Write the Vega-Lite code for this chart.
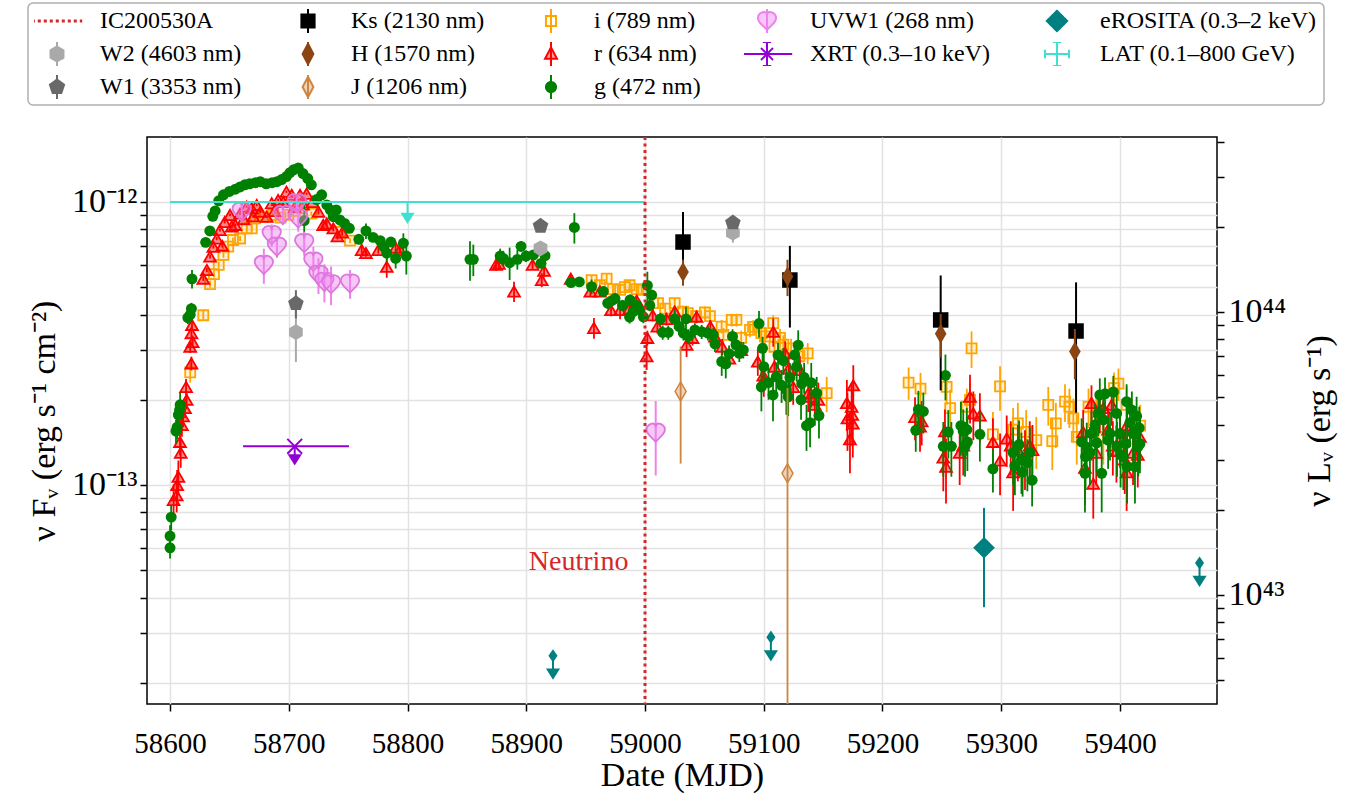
{
"$schema": "https://vega.github.io/schema/vega-lite/v6.json",
"width": 1070, "height": 567,
"autosize": {"type": "none"},
"padding": {"left": 147, "top": 137, "right": 142, "bottom": 92},
"config": {
 "font": "Liberation Serif",
 "view": {"stroke": "black", "strokeWidth": 1.5},
 "axis": {"labelFont": "Liberation Serif", "titleFont": "Liberation Serif", "labelFontSize": 29, "titleFontSize": 34, "titleFontWeight": "normal", "labelColor": "black", "titleColor": "black", "tickColor": "black", "domain": false, "tickWidth": 1.5, "gridColor": "#e2e2e2", "gridWidth": 1.5, "labelOverlap": false}
},
"datasets": {
 "d": [
{"b":"g","t":58600,"f":6.0e-14,"e":5e-15},{"b":"g","t":58600,"f":6.6e-14,"e":6e-15},{"b":"g","t":58601,"f":7.7e-14,"e":8e-15},{"b":"g","t":58605,"f":1.55e-13,"e":1.5e-14},{"b":"g","t":58606,"f":1.6e-13,"e":1.5e-14},{"b":"g","t":58607,"f":1.77e-13,"e":1.5e-14},{"b":"g","t":58608,"f":1.84e-13,"e":1.5e-14},{"b":"g","t":58608.5,"f":1.92e-13,"e":2e-14},{"b":"g","t":58615,"f":3.9e-13,"e":2e-14},{"b":"g","t":58617,"f":4.0e-13,"e":2e-14},{"b":"g","t":58618,"f":4.2e-13,"e":2e-14},{"b":"g","t":58618.5,"f":5.35e-13,"e":4e-14},
{"b":"g","t":58630,"f":7.2e-13,"e":1e-14},{"b":"g","t":58633.5,"f":7.9e-13,"e":1e-14},{"b":"g","t":58636,"f":8.9e-13,"e":1e-14},{"b":"g","t":58638,"f":9.3e-13,"e":1e-14},{"b":"g","t":58641,"f":1.01e-12,"e":1e-14},{"b":"g","t":58645,"f":1.06e-12,"e":1e-14},{"b":"g","t":58650,"f":1.09e-12,"e":1e-14},{"b":"g","t":58655,"f":1.11e-12,"e":1e-14},{"b":"g","t":58659,"f":1.13e-12,"e":1e-14},{"b":"g","t":58663,"f":1.15e-12,"e":1e-14},{"b":"g","t":58667,"f":1.16e-12,"e":1e-14},{"b":"g","t":58672,"f":1.17e-12,"e":1e-14},{"b":"g","t":58676,"f":1.18e-12,"e":1e-14},{"b":"g","t":58681,"f":1.16e-12,"e":1e-14},{"b":"g","t":58686,"f":1.17e-12,"e":1e-14},{"b":"g","t":58690,"f":1.18e-12,"e":1e-14},{"b":"g","t":58694,"f":1.2e-12,"e":1e-14},{"b":"g","t":58698,"f":1.23e-12,"e":1e-14},{"b":"g","t":58701,"f":1.27e-12,"e":1e-14},{"b":"g","t":58704,"f":1.3e-12,"e":1e-14},{"b":"g","t":58708,"f":1.32e-12,"e":1e-14},{"b":"g","t":58712,"f":1.26e-12,"e":1e-14},{"b":"g","t":58716,"f":1.21e-12,"e":1e-14},{"b":"g","t":58719,"f":1.15e-12,"e":1e-14},{"b":"g","t":58713,"f":8.6e-13,"e":1.2e-13},{"b":"g","t":58723.5,"f":1.02e-12,"e":1e-14},{"b":"g","t":58727.7,"f":1.06e-12,"e":1e-14},{"b":"g","t":58732,"f":9.76e-13,"e":1e-14},{"b":"g","t":58735,"f":9.37e-13,"e":1e-14},{"b":"g","t":58737.5,"f":8.87e-13,"e":1e-14},{"b":"g","t":58740,"f":9.37e-13,"e":1e-14},{"b":"g","t":58743,"f":8.64e-13,"e":1e-14},{"b":"g","t":58747,"f":8.4e-13,"e":1e-14},{"b":"g","t":58751,"f":8.07e-13,"e":1e-14},{"b":"g","t":58759,"f":7.38e-13,"e":2e-14},{"b":"g","t":58765,"f":7.9e-13,"e":5e-14},{"b":"g","t":58771,"f":7.5e-13,"e":2e-14},{"b":"g","t":58777,"f":7.3e-13,"e":2e-14},{"b":"g","t":58780,"f":6.95e-13,"e":2e-14},{"b":"g","t":58782.5,"f":6.6e-13,"e":4e-14},{"b":"g","t":58786,"f":7.22e-13,"e":2e-14},{"b":"g","t":58790,"f":6.32e-13,"e":5e-14},{"b":"g","t":58796.5,"f":7.15e-13,"e":6e-14},{"b":"g","t":58799,"f":6.44e-13,"e":9e-14},
{"b":"g","t":58852.6,"f":6.27e-13,"e":1e-13},{"b":"g","t":58855.4,"f":6.27e-13,"e":8e-14},{"b":"g","t":58878,"f":6.44e-13,"e":4e-14},{"b":"g","t":58880.7,"f":6.32e-13,"e":4e-14},{"b":"g","t":58886,"f":6.1e-13,"e":8e-14},{"b":"g","t":58892.5,"f":6.27e-13,"e":5e-14},{"b":"g","t":58895.6,"f":6.97e-13,"e":3e-14},{"b":"g","t":58899.8,"f":6.44e-13,"e":3e-14},{"b":"g","t":58906,"f":6.5e-13,"e":2e-14},{"b":"g","t":58912.4,"f":6.07e-13,"e":2e-14},{"b":"g","t":58915.8,"f":6.46e-13,"e":2e-14},{"b":"g","t":58940.5,"f":8.13e-13,"e":1e-13},{"b":"g","t":58937.7,"f":5.19e-13,"e":2e-14},{"b":"g","t":58944.7,"f":5.22e-13,"e":2e-14},{"b":"g","t":58955,"f":5.02e-13,"e":3e-14},{"b":"g","t":58964.9,"f":4.83e-13,"e":2e-14},{"b":"g","t":58968.6,"f":4.39e-13,"e":2e-14},{"b":"g","t":58972,"f":4.48e-13,"e":2e-14},{"b":"g","t":58974.7,"f":4.56e-13,"e":2e-14},{"b":"g","t":58981,"f":4.31e-13,"e":2e-14},{"b":"g","t":58987.4,"f":4.51e-13,"e":2e-14},{"b":"g","t":58987,"f":3.92e-13,"e":2e-14},{"b":"g","t":58990,"f":4.1e-13,"e":2e-14},{"b":"g","t":58993,"f":4.31e-13,"e":2e-14},{"b":"g","t":58995.8,"f":4.15e-13,"e":2e-14},{"b":"g","t":58998.6,"f":3.93e-13,"e":2e-14},{"b":"g","t":59002,"f":5.07e-13,"e":6e-14},{"b":"g","t":59005.6,"f":4.69e-13,"e":2e-14},{"b":"g","t":59004,"f":4.31e-13,"e":2e-14},{"b":"g","t":59013,"f":3.86e-13,"e":2e-14},{"b":"g","t":59014.9,"f":3.46e-13,"e":2e-14},{"b":"g","t":59019.6,"f":3.46e-13,"e":2e-14},{"b":"g","t":59025,"f":3.86e-13,"e":3e-14},{"b":"g","t":59028.9,"f":3.63e-13,"e":2e-14},{"b":"g","t":59032.3,"f":3.44e-13,"e":2e-14},{"b":"g","t":59034.5,"f":3.86e-13,"e":4e-14},{"b":"g","t":59036.5,"f":3.35e-13,"e":2e-14},{"b":"g","t":59042,"f":3.53e-13,"e":2e-14},{"b":"g","t":59047.7,"f":3.48e-13,"e":2e-14},{"b":"g","t":59053,"f":3.44e-13,"e":2e-14},{"b":"g","t":59057.5,"f":3.39e-13,"e":2e-14},{"b":"g","t":59058.9,"f":3.15e-13,"e":2e-14},{"b":"g","t":59064.6,"f":2.73e-13,"e":3e-14},{"b":"g","t":59068,"f":2.68e-13,"e":3e-14},{"b":"g","t":59070.8,"f":2.91e-13,"e":2e-14},{"b":"g","t":59073.7,"f":3.35e-13,"e":2e-14},{"b":"g","t":59076.6,"f":3.13e-13,"e":2e-14},{"b":"g","t":59079.4,"f":2.92e-13,"e":2e-14},{"b":"g","t":59082.8,"f":3.0e-13,"e":2e-14},{"b":"g","t":59096,"f":3.72e-13,"e":4e-14},{"b":"g","t":59099,"f":3.04e-13,"e":3e-14},{"b":"g","t":59100,"f":2.62e-13,"e":4e-14},{"b":"g","t":59098,"f":2.22e-13,"e":4e-14},{"b":"g","t":59104,"f":2.3e-13,"e":3e-14},{"b":"g","t":59107.8,"f":2.08e-13,"e":4e-14},{"b":"g","t":59110.5,"f":2.41e-13,"e":3e-14},{"b":"g","t":59112,"f":2.88e-13,"e":3e-14},{"b":"g","t":59116.5,"f":2.75e-13,"e":3e-14},{"b":"g","t":59115,"f":2.25e-13,"e":3e-14},{"b":"g","t":59119,"f":2.17e-13,"e":4e-14},{"b":"g","t":59120.6,"f":2.05e-13,"e":3e-14},{"b":"g","t":59122,"f":2.4e-13,"e":3e-14},{"b":"g","t":59126,"f":2.88e-13,"e":3e-14},{"b":"g","t":59127.7,"f":2.62e-13,"e":3e-14},{"b":"g","t":59129,"f":3.12e-13,"e":4e-14},{"b":"g","t":59132,"f":2.28e-13,"e":3e-14},{"b":"g","t":59131.4,"f":2.0e-13,"e":3e-14},{"b":"g","t":59134,"f":2.4e-13,"e":3e-14},{"b":"g","t":59136,"f":1.62e-13,"e":3e-14},{"b":"g","t":59139,"f":1.66e-13,"e":3e-14},{"b":"g","t":59140,"f":2.3e-13,"e":4e-14},{"b":"g","t":59144.6,"f":2.11e-13,"e":3e-14},{"b":"g","t":59146.5,"f":1.76e-13,"e":3e-14},
{"b":"g","t":59228,"f":1.56e-13,"e":2.5e-14},{"b":"g","t":59230.2,"f":1.85e-13,"e":3e-14},{"b":"g","t":59234.4,"f":1.82e-13,"e":3e-14},{"b":"g","t":59253,"f":2.44e-13,"e":4.5e-14},{"b":"g","t":59255.4,"f":1.54e-13,"e":3e-14},{"b":"g","t":59251.2,"f":1.37e-13,"e":3e-14},{"b":"g","t":59258,"f":1.37e-13,"e":3e-14},{"b":"g","t":59266,"f":1.62e-13,"e":3.5e-14},{"b":"g","t":59268,"f":1.55e-13,"e":3e-14},{"b":"g","t":59271,"f":1.57e-13,"e":3e-14},{"b":"g","t":59271.5,"f":1.42e-13,"e":3e-14},{"b":"g","t":59269.5,"f":1.37e-13,"e":3e-14},{"b":"g","t":59282,"f":1.51e-13,"e":3e-14},{"b":"g","t":59293,"f":1.14e-13,"e":2e-14},{"b":"g","t":59310,"f":1.3e-13,"e":3e-14},{"b":"g","t":59315,"f":1.39e-13,"e":3e-14},{"b":"g","t":59311.5,"f":1.17e-13,"e":2.5e-14},{"b":"g","t":59317,"f":1.23e-13,"e":3e-14},{"b":"g","t":59318,"f":1.11e-13,"e":2e-14},{"b":"g","t":59322,"f":1.2e-13,"e":2.5e-14},{"b":"g","t":59324,"f":1.3e-13,"e":3e-14},{"b":"g","t":59326,"f":1.04e-13,"e":2e-14},
{"b":"g","t":59367.7,"f":1.42e-13,"e":3e-14},{"b":"g","t":59372,"f":1.36e-13,"e":3e-14},{"b":"g","t":59370.5,"f":1.1e-13,"e":3e-14},{"b":"g","t":59374.7,"f":1.3e-13,"e":3e-14},{"b":"g","t":59380.4,"f":1.41e-13,"e":3e-14},{"b":"g","t":59383,"f":2.08e-13,"e":3e-14},{"b":"g","t":59387.4,"f":2.1e-13,"e":3e-14},{"b":"g","t":59394.4,"f":2.13e-13,"e":3e-14},{"b":"g","t":59381.7,"f":1.79e-13,"e":3e-14},{"b":"g","t":59386,"f":1.7e-13,"e":3e-14},{"b":"g","t":59384.6,"f":1.1e-13,"e":3e-14},{"b":"g","t":59397.2,"f":1.79e-13,"e":3e-14},{"b":"g","t":59400,"f":1.52e-13,"e":3e-14},{"b":"g","t":59397.5,"f":1.37e-13,"e":3e-14},{"b":"g","t":59405.6,"f":1.97e-13,"e":3e-14},{"b":"g","t":59408.4,"f":1.66e-13,"e":3e-14},{"b":"g","t":59405,"f":1.4e-13,"e":3e-14},{"b":"g","t":59411,"f":1.52e-13,"e":3e-14},{"b":"g","t":59414,"f":1.75e-13,"e":3e-14},{"b":"g","t":59416.2,"f":1.59e-13,"e":3e-14},{"b":"g","t":59415.4,"f":1.37e-13,"e":3e-14},{"b":"g","t":59412.6,"f":1.16e-13,"e":3e-14},{"b":"g","t":59416.8,"f":1.4e-13,"e":3e-14},{"b":"g","t":59402.8,"f":1.26e-13,"e":3e-14},{"b":"g","t":59391.6,"f":1.52e-13,"e":3e-14},{"b":"g","t":59376,"f":1.52e-13,"e":3e-14},{"b":"g","t":59371,"f":1.26e-13,"e":3e-14},{"b":"g","t":59406,"f":1.16e-13,"e":3e-14},{"b":"g","t":59379,"f":1.63e-13,"e":3e-14},{"b":"g","t":59390,"f":1.44e-13,"e":3e-14},{"b":"g","t":59400.5,"f":1.28e-13,"e":3e-14},{"b":"g","t":59410,"f":1.84e-13,"e":3e-14},
{"b":"r","t":58603,"f":8.85e-14,"e":1.2e-14},{"b":"r","t":58605.6,"f":9.2e-14,"e":1.2e-14},{"b":"r","t":58606,"f":1.0e-13,"e":1.3e-14},{"b":"r","t":58607,"f":1.07e-13,"e":1.5e-14},{"b":"r","t":58608.4,"f":1.42e-13,"e":1.5e-14},{"b":"r","t":58609,"f":1.3e-13,"e":1.5e-14},{"b":"r","t":58610,"f":1.63e-13,"e":1.5e-14},{"b":"r","t":58611,"f":1.75e-13,"e":1.5e-14},{"b":"r","t":58612.6,"f":1.87e-13,"e":1.5e-14},{"b":"r","t":58614,"f":2.0e-13,"e":1.5e-14},{"b":"r","t":58613.5,"f":2.22e-13,"e":1.5e-14},{"b":"r","t":58618,"f":2.69e-13,"e":1.5e-14},{"b":"r","t":58617,"f":3.08e-13,"e":1.5e-14},{"b":"r","t":58619,"f":3.2e-13,"e":1.5e-14},{"b":"r","t":58618,"f":3.44e-13,"e":1.5e-14},{"b":"r","t":58618.5,"f":3.68e-13,"e":1.5e-14},
{"b":"r","t":58628,"f":5.36e-13,"e":1e-14},{"b":"r","t":58631,"f":5.75e-13,"e":1e-14},{"b":"r","t":58633.7,"f":6.42e-13,"e":1e-14},{"b":"r","t":58636.5,"f":6.95e-13,"e":1e-14},{"b":"r","t":58639.3,"f":7.43e-13,"e":1e-14},{"b":"r","t":58642,"f":7.96e-13,"e":1e-14},{"b":"r","t":58644,"f":7.0e-13,"e":1e-14},{"b":"r","t":58646,"f":8.5e-13,"e":1e-14},{"b":"r","t":58650.5,"f":9.0e-13,"e":1e-14},{"b":"r","t":58652,"f":8.2e-13,"e":1e-14},{"b":"r","t":58655,"f":8.3e-13,"e":1e-14},{"b":"r","t":58659,"f":9.1e-13,"e":1e-14},{"b":"r","t":58662,"f":8.7e-13,"e":1e-14},{"b":"r","t":58664.6,"f":9.63e-13,"e":1e-14},{"b":"r","t":58668.8,"f":9.5e-13,"e":1e-14},{"b":"r","t":58670,"f":8.9e-13,"e":1e-14},{"b":"r","t":58673,"f":9.76e-13,"e":1e-14},{"b":"r","t":58676,"f":9.24e-13,"e":1e-14},{"b":"r","t":58681.4,"f":8.87e-13,"e":1e-14},{"b":"r","t":58685.6,"f":9.9e-13,"e":1e-14},{"b":"r","t":58688,"f":9.3e-13,"e":1e-14},{"b":"r","t":58691,"f":1.016e-12,"e":1e-14},{"b":"r","t":58695.4,"f":1.0e-12,"e":1e-14},{"b":"r","t":58698,"f":1.087e-12,"e":1e-14},{"b":"r","t":58702.5,"f":1.06e-12,"e":1e-14},{"b":"r","t":58705,"f":9.6e-13,"e":1e-14},{"b":"r","t":58709.5,"f":1.06e-12,"e":1e-14},{"b":"r","t":58712,"f":9.8e-13,"e":1e-14},{"b":"r","t":58715,"f":1.07e-12,"e":1e-14},{"b":"r","t":58720,"f":1.0e-12,"e":1e-14},{"b":"r","t":58725,"f":9.24e-13,"e":2e-14},{"b":"r","t":58729,"f":8.3e-13,"e":2e-14},{"b":"r","t":58732,"f":8.4e-13,"e":2e-14},{"b":"r","t":58737.5,"f":8.07e-13,"e":2e-14},{"b":"r","t":58741,"f":7.57e-13,"e":2e-14},{"b":"r","t":58745,"f":7.8e-13,"e":2e-14},{"b":"r","t":58761.4,"f":6.77e-13,"e":2e-14},{"b":"r","t":58765,"f":6.6e-13,"e":2e-14},{"b":"r","t":58775.4,"f":6.77e-13,"e":2e-14},{"b":"r","t":58782.5,"f":5.9e-13,"e":5e-14},{"b":"r","t":58790,"f":6.9e-13,"e":2e-14},{"b":"r","t":58793.7,"f":6.77e-13,"e":2e-14},
{"b":"r","t":58874.5,"f":6.0e-13,"e":3e-14},{"b":"r","t":58877,"f":6.05e-13,"e":3e-14},{"b":"r","t":58889.7,"f":4.83e-13,"e":4e-14},{"b":"r","t":58905.3,"f":6.0e-13,"e":2e-14},{"b":"r","t":58913,"f":5.3e-13,"e":3e-14},{"b":"r","t":58915,"f":5.72e-13,"e":3e-14},{"b":"r","t":58937.5,"f":5.36e-13,"e":2e-14},{"b":"r","t":58954,"f":4.83e-13,"e":2e-14},{"b":"r","t":58957,"f":3.59e-13,"e":3e-14},{"b":"r","t":58962,"f":4.83e-13,"e":2e-14},{"b":"r","t":58971.4,"f":4.15e-13,"e":2e-14},{"b":"r","t":58979,"f":4.15e-13,"e":3e-14},{"b":"r","t":58986.8,"f":4.2e-13,"e":2e-14},{"b":"r","t":58993,"f":4.48e-13,"e":2e-14},{"b":"r","t":59002,"f":3.31e-13,"e":2e-14},{"b":"r","t":59001.4,"f":2.85e-13,"e":3e-14},{"b":"r","t":59006.5,"f":3.98e-13,"e":2e-14},{"b":"r","t":59010.4,"f":3.63e-13,"e":2e-14},{"b":"r","t":59018,"f":3.86e-13,"e":2e-14},{"b":"r","t":59025,"f":4.1e-13,"e":2e-14},{"b":"r","t":59035,"f":3.13e-13,"e":3e-14},{"b":"r","t":59040,"f":3.31e-13,"e":2e-14},{"b":"r","t":59043.4,"f":3.93e-13,"e":2e-14},{"b":"r","t":59055,"f":3.63e-13,"e":2e-14},{"b":"r","t":59058.9,"f":3.35e-13,"e":2e-14},{"b":"r","t":59065,"f":3.08e-13,"e":2e-14},{"b":"r","t":59071,"f":2.8e-13,"e":2e-14},{"b":"r","t":59081,"f":3.0e-13,"e":2e-14},{"b":"r","t":59095,"f":2.73e-13,"e":3e-14},{"b":"r","t":59099.6,"f":2.44e-13,"e":3e-14},{"b":"r","t":59100,"f":2.35e-13,"e":3e-14},{"b":"r","t":59108,"f":3.48e-13,"e":4e-14},{"b":"r","t":59109,"f":2.62e-13,"e":3e-14},{"b":"r","t":59118,"f":2.92e-13,"e":3e-14},{"b":"r","t":59121,"f":2.58e-13,"e":3e-14},{"b":"r","t":59124.8,"f":2.22e-13,"e":3e-14},{"b":"r","t":59130.5,"f":2.55e-13,"e":3e-14},{"b":"r","t":59137.5,"f":2.11e-13,"e":3e-14},{"b":"r","t":59139,"f":2.05e-13,"e":3e-14},{"b":"r","t":59143,"f":1.92e-13,"e":3e-14},{"b":"r","t":59146,"f":2.0e-13,"e":3e-14},
{"b":"r","t":59170,"f":1.95e-13,"e":4e-14},{"b":"r","t":59175.4,"f":2.25e-13,"e":4e-14},{"b":"r","t":59174,"f":1.89e-13,"e":4e-14},{"b":"r","t":59174.5,"f":1.77e-13,"e":4e-14},{"b":"r","t":59170.5,"f":1.72e-13,"e":4e-14},{"b":"r","t":59172.6,"f":1.45e-13,"e":3.5e-14},{"b":"r","t":59175,"f":1.65e-13,"e":4e-14},
{"b":"r","t":59227.4,"f":1.74e-13,"e":3e-14},{"b":"r","t":59231.6,"f":1.61e-13,"e":3e-14},{"b":"r","t":59233,"f":1.68e-13,"e":3e-14},{"b":"r","t":59252.6,"f":1.55e-13,"e":3e-14},{"b":"r","t":59251.2,"f":1.25e-13,"e":3e-14},{"b":"r","t":59253.5,"f":1.16e-13,"e":3e-14},{"b":"r","t":59265,"f":1.3e-13,"e":3e-14},{"b":"r","t":59268,"f":1.38e-13,"e":3e-14},{"b":"r","t":59273.7,"f":2.05e-13,"e":4e-14},{"b":"r","t":59276.5,"f":1.79e-13,"e":3.5e-14},{"b":"r","t":59282,"f":1.76e-13,"e":3.5e-14},{"b":"r","t":59293,"f":1.42e-13,"e":3e-14},{"b":"r","t":59299,"f":1.22e-13,"e":3e-14},{"b":"r","t":59304.6,"f":1.46e-13,"e":3e-14},{"b":"r","t":59308,"f":1.38e-13,"e":3e-14},{"b":"r","t":59310,"f":1.11e-13,"e":3e-14},{"b":"r","t":59314,"f":1.33e-13,"e":3e-14},{"b":"r","t":59320,"f":1.26e-13,"e":3e-14},{"b":"r","t":59324,"f":1.38e-13,"e":3e-14},{"b":"r","t":59326.3,"f":1.33e-13,"e":3e-14},
{"b":"r","t":59369,"f":1.54e-13,"e":3e-14},{"b":"r","t":59370.5,"f":1.15e-13,"e":3e-14},{"b":"r","t":59376,"f":1.95e-13,"e":3e-14},{"b":"r","t":59377.5,"f":1.01e-13,"e":2.5e-14},{"b":"r","t":59380,"f":1.3e-13,"e":3e-14},{"b":"r","t":59383,"f":1.82e-13,"e":3e-14},{"b":"r","t":59386,"f":1.87e-13,"e":3e-14},{"b":"r","t":59390,"f":1.57e-13,"e":3e-14},{"b":"r","t":59393,"f":1.92e-13,"e":3e-14},{"b":"r","t":59394,"f":1.38e-13,"e":3e-14},{"b":"r","t":59397,"f":1.32e-13,"e":3e-14},{"b":"r","t":59400,"f":1.45e-13,"e":3e-14},{"b":"r","t":59404,"f":1.23e-13,"e":3e-14},{"b":"r","t":59405.6,"f":1.11e-13,"e":3e-14},{"b":"r","t":59406,"f":1.63e-13,"e":3e-14},{"b":"r","t":59411,"f":1.3e-13,"e":3e-14},{"b":"r","t":59415,"f":1.28e-13,"e":3e-14},{"b":"r","t":59416.8,"f":1.48e-13,"e":3e-14},
{"b":"i","t":58617,"f":2.5e-13,"e":2e-14},{"b":"i","t":58628,"f":3.98e-13,"e":1.5e-14},{"b":"i","t":58633.7,"f":5.13e-13,"e":1.5e-14},{"b":"i","t":58637,"f":5.56e-13,"e":1.5e-14},{"b":"i","t":58641,"f":6.0e-13,"e":1.5e-14},{"b":"i","t":58645,"f":6.5e-13,"e":1.5e-14},{"b":"i","t":58649,"f":6.95e-13,"e":1.5e-14},{"b":"i","t":58653,"f":7.34e-13,"e":1.5e-14},{"b":"i","t":58659,"f":7.43e-13,"e":1.5e-14},{"b":"i","t":58664.6,"f":8.07e-13,"e":1.5e-14},{"b":"i","t":58668.8,"f":8.07e-13,"e":1.5e-14},{"b":"i","t":58671.6,"f":8.75e-13,"e":1.5e-14},{"b":"i","t":58678.6,"f":8.87e-13,"e":1.5e-14},{"b":"i","t":58687,"f":9.0e-13,"e":1.5e-14},{"b":"i","t":58693,"f":8.8e-13,"e":1.5e-14},{"b":"i","t":58699.6,"f":9.0e-13,"e":1.5e-14},{"b":"i","t":58705,"f":9.3e-13,"e":1.5e-14},{"b":"i","t":58711,"f":9.5e-13,"e":1.5e-14},{"b":"i","t":58719,"f":9.1e-13,"e":1.5e-14},{"b":"i","t":58744.6,"f":7.85e-13,"e":1.5e-14},{"b":"i","t":58751.6,"f":7.3e-13,"e":1.5e-14},
{"b":"i","t":58955,"f":5.3e-13,"e":2e-14},{"b":"i","t":58962,"f":5.08e-13,"e":2e-14},{"b":"i","t":58967.7,"f":5.36e-13,"e":2e-14},{"b":"i","t":58973,"f":4.92e-13,"e":2e-14},{"b":"i","t":58979,"f":4.89e-13,"e":2e-14},{"b":"i","t":58983,"f":5.0e-13,"e":2e-14},{"b":"i","t":58987,"f":5.08e-13,"e":2e-14},{"b":"i","t":58993,"f":4.92e-13,"e":2e-14},{"b":"i","t":58998.6,"f":4.89e-13,"e":2e-14},{"b":"i","t":59011,"f":4.39e-13,"e":2e-14},{"b":"i","t":59017,"f":4.2e-13,"e":2e-14},{"b":"i","t":59025,"f":4.39e-13,"e":2e-14},{"b":"i","t":59032,"f":4.1e-13,"e":2e-14},{"b":"i","t":59036,"f":4.05e-13,"e":2e-14},{"b":"i","t":59043,"f":3.95e-13,"e":2e-14},{"b":"i","t":59050.5,"f":4.07e-13,"e":2e-14},{"b":"i","t":59054.7,"f":3.95e-13,"e":2e-14},{"b":"i","t":59064.5,"f":3.63e-13,"e":2e-14},{"b":"i","t":59066,"f":3.39e-13,"e":2e-14},{"b":"i","t":59073,"f":3.83e-13,"e":2e-14},{"b":"i","t":59077,"f":3.83e-13,"e":2e-14},{"b":"i","t":59081,"f":3.31e-13,"e":2e-14},{"b":"i","t":59088.4,"f":3.53e-13,"e":2e-14},{"b":"i","t":59091,"f":3.62e-13,"e":2e-14},{"b":"i","t":59098,"f":3.44e-13,"e":2.5e-14},{"b":"i","t":59101,"f":3.35e-13,"e":2.5e-14},{"b":"i","t":59108,"f":3.73e-13,"e":2.5e-14},{"b":"i","t":59109,"f":3.08e-13,"e":2.5e-14},{"b":"i","t":59113.7,"f":3.31e-13,"e":2.5e-14},{"b":"i","t":59116.5,"f":3.13e-13,"e":2.5e-14},{"b":"i","t":59123,"f":3.04e-13,"e":2.5e-14},{"b":"i","t":59130,"f":2.85e-13,"e":2.5e-14},{"b":"i","t":59137,"f":2.92e-13,"e":2.5e-14},{"b":"i","t":59153,"f":2.11e-13,"e":3e-14},
{"b":"i","t":59222,"f":2.3e-13,"e":3e-14},{"b":"i","t":59232,"f":2.19e-13,"e":3e-14},{"b":"i","t":59254,"f":2.22e-13,"e":3e-14},{"b":"i","t":59257,"f":1.87e-13,"e":3e-14},{"b":"i","t":59271,"f":1.89e-13,"e":3e-14},{"b":"i","t":59273.7,"f":2.0e-13,"e":3e-14},{"b":"i","t":59275,"f":3.04e-13,"e":4.5e-14},{"b":"i","t":59293,"f":1.51e-13,"e":3e-14},{"b":"i","t":59299,"f":2.23e-13,"e":4e-14},{"b":"i","t":59310,"f":1.57e-13,"e":3e-14},{"b":"i","t":59314,"f":1.65e-13,"e":3e-14},{"b":"i","t":59321,"f":1.54e-13,"e":3e-14},{"b":"i","t":59329.5,"f":1.44e-13,"e":3e-14},{"b":"i","t":59339.6,"f":1.92e-13,"e":3e-14},{"b":"i","t":59343,"f":1.43e-13,"e":3e-14},{"b":"i","t":59346,"f":1.65e-13,"e":3e-14},{"b":"i","t":59353.7,"f":1.97e-13,"e":3e-14},{"b":"i","t":59357.4,"f":1.89e-13,"e":3e-14},{"b":"i","t":59360.7,"f":1.72e-13,"e":3e-14},{"b":"i","t":59363.6,"f":1.48e-13,"e":3e-14},{"b":"i","t":59373.5,"f":1.89e-13,"e":3e-14},{"b":"i","t":59380,"f":1.75e-13,"e":3e-14},{"b":"i","t":59386,"f":1.48e-13,"e":3e-14},{"b":"i","t":59395,"f":2.2e-13,"e":3e-14},{"b":"i","t":59398.7,"f":2.28e-13,"e":3e-14},{"b":"i","t":59405.6,"f":1.92e-13,"e":3e-14},{"b":"i","t":59417,"f":1.62e-13,"e":3e-14},
{"b":"UVW1","t":58660.4,"f":9.24e-13,"e":5e-14},{"b":"UVW1","t":58679,"f":5.99e-13,"e":8.5e-14},{"b":"UVW1","t":58685.6,"f":7.64e-13,"e":7e-14},{"b":"UVW1","t":58690,"f":6.95e-13,"e":6e-14},{"b":"UVW1","t":58695,"f":9.0e-13,"e":6e-14},{"b":"UVW1","t":58706.7,"f":9.9e-13,"e":6e-14},{"b":"UVW1","t":58708,"f":8.75e-13,"e":9e-14},{"b":"UVW1","t":58713,"f":7.15e-13,"e":7e-14},{"b":"UVW1","t":58720.7,"f":6.15e-13,"e":8e-14},{"b":"UVW1","t":58725,"f":5.53e-13,"e":8e-14},{"b":"UVW1","t":58730,"f":5.22e-13,"e":8e-14},{"b":"UVW1","t":58735.6,"f":5.12e-13,"e":8e-14},{"b":"UVW1","t":58751.6,"f":5.15e-13,"e":6e-14},{"b":"UVW1","t":59009,"f":1.53e-13,"e":4.5e-14},
{"b":"W2","t":58706,"f":3.47e-13,"e":7.5e-14},{"b":"W2","t":58912,"f":6.86e-13,"e":3e-14},{"b":"W2","t":59074,"f":7.79e-13,"e":6e-14},
{"b":"W1","t":58706,"f":4.38e-13,"e":5e-14},{"b":"W1","t":58912,"f":8.22e-13,"e":3e-14},{"b":"W1","t":59074,"f":8.45e-13,"e":4e-14},
{"b":"Ks","t":59032,"f":7.22e-13,"e":2.0e-13},{"b":"Ks","t":59122,"f":5.3e-13,"e":1.7e-13},{"b":"Ks","t":59249,"f":3.83e-13,"e":1.67e-13},{"b":"Ks","t":59363,"f":3.5e-13,"e":1.7e-13},
{"b":"H","t":59032,"f":5.66e-13,"e":6e-14},{"b":"H","t":59120,"f":5.45e-13,"e":8e-14},{"b":"H","t":59249,"f":3.42e-13,"e":6e-14},{"b":"H","t":59362,"f":2.96e-13,"e":6e-14},
{"b":"J","t":59030,"f":2.14e-13,"e":9.5e-14},{"b":"J","t":59120,"f":1.1e-13,"e":0},
{"b":"eR","t":59285.5,"f":6.0e-14,"e":2.3e-14}
 ],
 "ul": [
  {"b":"XRT","t":58705,"f":1.37e-13,"a":1.24e-13},
  {"b":"LAT","t":58800,"f":1e-12,"a":8.85e-13},
  {"b":"eR","t":58922.5,"f":2.49e-14,"a":2.17e-14},
  {"b":"eR","t":59106,"f":2.9e-14,"a":2.52e-14},
  {"b":"eR","t":59467,"f":5.3e-14,"a":4.62e-14}
 ],
 "hx": [
  {"b":"XRT","t":58661.5,"t2":58750.7,"f":1.37e-13},
  {"b":"LAT","t":58600,"t2":59000,"f":1e-12}
 ],
 "jr": [{"b":"J","t":59120,"lo":1e-16,"hi":2.2e-13}]
},
"layer": [
 {
  "data": {"name": "d"},
  "encoding": {
   "x": {"field": "t", "type": "quantitative", "title": "Date (MJD)", "scale": {"domain": [58580.6, 59481.7], "nice": false, "zero": false},
         "axis": {"values": [58600,58700,58800,58900,59000,59100,59200,59300,59400], "format": "d", "grid": true, "tickSize": 7, "labelPadding": 18, "titlePadding": 0}},
   "y": {"field": "f", "type": "quantitative", "title": "ν Fᵥ (erg s⁻¹ cm⁻²)", "scale": {"type": "log", "domain": [1.683e-14, 1.697e-12], "nice": false},
         "axis": {"orient": "left", "values": [2e-14,3e-14,4e-14,5e-14,6e-14,7e-14,8e-14,9e-14,1e-13,2e-13,3e-13,4e-13,5e-13,6e-13,7e-13,8e-13,9e-13,1e-12],
                  "labelExpr": "datum.value == 1e-12 ? '10⁻¹²' : datum.value == 1e-13 ? '10⁻¹³' : ''", "labelFontSize": 34,
                  "grid": true, "tickSize": 7, "labelPadding": 3, "titlePadding": 10,
                  "encode": {"ticks": {"update": {"x2": {"signal": "(datum.value == 1e-12 || datum.value == 1e-13) ? -7 : -3.5"}}}}}},
   "color": {"field": "b", "type": "nominal",
     "scale": {"domain": ["IC","Ks","i","UVW1","eR","W2","H","r","XRT","LAT","W1","J","g"],
               "range": ["#d62728","#000000","#ffa500","#ee82ee","#008080","#a9a9a9","#8b4513","#ff0000","#9400d3","#40e0d0","#696969","#cd853f","#008000"]},
     "legend": {"orient": "none", "legendX": -119, "legendY": -134, "direction": "horizontal", "columns": 5, "title": null,
       "symbolSize": 576, "clipHeight": 24, "rowPadding": 9, "columnPadding": 43, "labelOffset": 31, "symbolOffset": 11,
       "padding": 6, "strokeColor": "#b0b0b0", "cornerRadius": 5, "fillColor": "white",
       "labelFont": "Liberation Serif", "labelFontSize": 24, "labelLimit": 400, "labelColor": "black",
       "labelExpr": "({'IC':'IC200530A','Ks':'Ks (2130 nm)','i':'i (789 nm)','UVW1':'UVW1 (268 nm)','eR':'eROSITA (0.3–2 keV)','W2':'W2 (4603 nm)','H':'H (1570 nm)','r':'r (634 nm)','XRT':'XRT (0.3–10 keV)','LAT':'LAT (0.1–800 GeV)','W1':'W1 (3353 nm)','J':'J (1206 nm)','g':'g (472 nm)'})[datum.value]",
       "encode": {
        "legend": {"update": {"strokeWidth": {"value": 1.5}}},
        "symbols": {"update": {
         "shape": {"signal": "({'IC':'M-2.1,0H2.1','Ks':'M-0.55,-0.55H0.55V0.55H-0.55Z M0,-1.1V1.1','i':'M-0.42,-0.42H0.42V0.42H-0.42Z M0,-1.1V1.1','UVW1':'M0,0.75C-0.22,0.45 -0.75,0.15 -0.75,-0.26C-0.75,-0.6 -0.41,-0.75 -0.22,-0.75C-0.07,-0.75 0,-0.6 0,-0.45C0,-0.6 0.07,-0.75 0.22,-0.75C0.41,-0.75 0.75,-0.6 0.75,-0.26C0.75,0.15 0.22,0.45 0,0.75Z M0,-1.1V1.1','eR':'M0,-0.85L0.85,0L0,0.85L-0.85,0Z','W2':'M0,-0.62L0.54,-0.31V0.31L0,0.62L-0.54,0.31V-0.31Z M0,-1.1V1.1','H':'M0,-0.85L0.45,0L0,0.85L-0.45,0Z M0,-1.1V1.1','r':'M0,-0.55L0.5,0.4H-0.5Z M0,-1.1V1.1','XRT':'M-0.5,-0.5L0.5,0.5M0.5,-0.5L-0.5,0.5M-2.1,0H2.1M0,-1V1M-0.35,-1H0.35M-0.35,1H0.35','LAT':'M-1,0H1M0,-1V1M-0.35,-1H0.35M-0.35,1H0.35M-1,-0.35V0.35M1,-0.35V0.35','W1':'M0,-0.62L0.59,-0.19L0.36,0.5H-0.36L-0.59,-0.19Z M0,-1.1V1.1','J':'M0,-0.85L0.45,0L0,0.85L-0.45,0Z M0,-1.1V1.1','g':'M-0.42,0A0.42,0.42 0 1,0 0.42,0A0.42,0.42 0 1,0 -0.42,0Z M0,-1.1V1.1'})[datum.value]"},
         "fill": {"signal": "({'IC':'#d62728','Ks':'#000000','i':'#ffa500','UVW1':'#ee82ee','eR':'#008080','W2':'#a9a9a9','H':'#8b4513','r':'#ff0000','XRT':'#9400d3','LAT':'#40e0d0','W1':'#696969','J':'#cd853f','g':'#008000'})[datum.value]"},
         "fillOpacity": {"signal": "({'IC':0,'Ks':1,'i':0,'UVW1':0.45,'eR':1,'W2':1,'H':1,'r':0.4,'XRT':0,'LAT':0,'W1':1,'J':0.35,'g':1})[datum.value]"},
         "stroke": {"signal": "({'IC':'#d62728','Ks':'#000000','i':'#ffa500','UVW1':'#ee82ee','eR':'#008080','W2':'#a9a9a9','H':'#8b4513','r':'#ff0000','XRT':'#9400d3','LAT':'#40e0d0','W1':'#696969','J':'#cd853f','g':'#008000'})[datum.value]"},
         "strokeOpacity": {"value": 1},
         "strokeWidth": {"signal": "datum.value == 'IC' ? 3 : 2"},
         "strokeDash": {"signal": "datum.value == 'IC' ? [3, 3] : [1, 0]"},
         "opacity": {"value": 1},
         "size": {"value": 576}
       }}}}}
  },
  "layer": [
   {"transform": [{"filter": "datum.b == 'i'"}], "mark": {"type": "errorbar", "thickness": 1.8}, "encoding": {"yError": {"field": "e"}}},
   {"transform": [{"filter": "datum.b == 'i'"}], "mark": {"type": "point", "shape": "square", "size": 100, "filled": true, "fillOpacity": 0.15, "stroke": "#ffa500", "strokeWidth": 1.8, "opacity": 1}},
   {"transform": [{"filter": "datum.b == 'r'"}], "mark": {"type": "errorbar", "thickness": 1.8}, "encoding": {"yError": {"field": "e"}}},
   {"transform": [{"filter": "datum.b == 'r'"}], "mark": {"type": "point", "shape": "triangle-up", "size": 140, "filled": true, "fillOpacity": 0.45, "stroke": "#ff0000", "strokeWidth": 1.8, "opacity": 1}},
   {"transform": [{"filter": "datum.b == 'g'"}], "mark": {"type": "errorbar", "thickness": 1.8}, "encoding": {"yError": {"field": "e"}}},
   {"transform": [{"filter": "datum.b == 'g'"}], "mark": {"type": "point", "shape": "circle", "size": 120, "filled": true, "opacity": 1}},
   {"transform": [{"filter": "datum.b == 'UVW1'"}], "mark": {"type": "errorbar", "thickness": 2}, "encoding": {"yError": {"field": "e"}}},
   {"transform": [{"filter": "datum.b == 'UVW1'"}], "mark": {"type": "point", "shape": "M0,1C-0.3,0.6 -1,0.2 -1,-0.35C-1,-0.8 -0.55,-1 -0.3,-1C-0.1,-1 0,-0.8 0,-0.6C0,-0.8 0.1,-1 0.3,-1C0.55,-1 1,-0.8 1,-0.35C1,0.2 0.3,0.6 0,1Z", "size": 340, "filled": true, "fillOpacity": 0.45, "stroke": "#dd77dd", "strokeWidth": 1.8, "opacity": 1}},
   {"transform": [{"filter": "datum.b == 'W2'"}], "mark": {"type": "errorbar", "thickness": 2}, "encoding": {"yError": {"field": "e"}}},
   {"transform": [{"filter": "datum.b == 'W2'"}], "mark": {"type": "point", "shape": "M0,-1L0.866,-0.5V0.5L0,1L-0.866,0.5V-0.5Z", "size": 250, "filled": true, "opacity": 1}},
   {"transform": [{"filter": "datum.b == 'W1'"}], "mark": {"type": "errorbar", "thickness": 2}, "encoding": {"yError": {"field": "e"}}},
   {"transform": [{"filter": "datum.b == 'W1'"}], "mark": {"type": "point", "shape": "M0,-1L0.951,-0.309L0.588,0.809H-0.588L-0.951,-0.309Z", "size": 270, "filled": true, "opacity": 1}},
   {"transform": [{"filter": "datum.b == 'Ks'"}], "mark": {"type": "errorbar", "thickness": 2}, "encoding": {"yError": {"field": "e"}}},
   {"transform": [{"filter": "datum.b == 'Ks'"}], "mark": {"type": "point", "shape": "square", "size": 240, "filled": true, "opacity": 1}},
   {"transform": [{"filter": "datum.b == 'H'"}], "mark": {"type": "errorbar", "thickness": 2}, "encoding": {"yError": {"field": "e"}}},
   {"transform": [{"filter": "datum.b == 'H'"}], "mark": {"type": "point", "shape": "M0,-1L0.58,0L0,1L-0.58,0Z", "size": 400, "filled": true, "opacity": 1}},
   {"data": {"name": "jr"}, "mark": {"type": "rule", "strokeWidth": 1.8, "clip": true},
    "encoding": {"y": {"field": "lo", "type": "quantitative", "title": "ν Fᵥ (erg s⁻¹ cm⁻²)", "scale": {"type": "log", "domain": [1.683e-14, 1.697e-12], "nice": false}}, "y2": {"field": "hi"}}},
   {"transform": [{"filter": "datum.b == 'J'"}], "mark": {"type": "errorbar", "thickness": 1.8}, "encoding": {"yError": {"field": "e"}}},
   {"transform": [{"filter": "datum.b == 'J'"}], "mark": {"type": "point", "shape": "M0,-1L0.58,0L0,1L-0.58,0Z", "size": 360, "filled": true, "fillOpacity": 0.35, "stroke": "#cd853f", "strokeWidth": 1.5, "opacity": 1}},
   {"transform": [{"filter": "datum.b == 'eR'"}], "mark": {"type": "errorbar", "thickness": 2}, "encoding": {"yError": {"field": "e"}}},
   {"transform": [{"filter": "datum.b == 'eR'"}], "mark": {"type": "point", "shape": "M0,-1L1,0L0,1L-1,0Z", "size": 470, "filled": true, "opacity": 1}},
   {"data": {"name": "hx"}, "mark": {"type": "rule", "strokeWidth": 2}, "encoding": {"x2": {"field": "t2"}}},
   {"data": {"name": "ul"}, "mark": {"type": "rule", "strokeWidth": 2}, "encoding": {"y2": {"field": "a"}}},
   {"data": {"name": "ul"}, "mark": {"type": "point", "shape": "M-1,-0.6H1L0,1Z", "size": 200, "filled": true, "opacity": 1},
    "encoding": {"y": {"field": "a", "type": "quantitative", "title": "ν Fᵥ (erg s⁻¹ cm⁻²)", "scale": {"type": "log", "domain": [1.683e-14, 1.697e-12], "nice": false}}}},
   {"data": {"name": "ul"}, "transform": [{"filter": "datum.b == 'eR'"}], "mark": {"type": "point", "shape": "M0,-1L0.7,0L0,1L-0.7,0Z", "size": 170, "filled": true, "opacity": 1}},
   {"data": {"name": "ul"}, "transform": [{"filter": "datum.b == 'XRT'"}], "mark": {"type": "point", "shape": "M-1,-1L1,1M1,-1L-1,1", "size": 220, "filled": false, "strokeWidth": 2, "opacity": 1}}
  ]
 },
 {
  "data": {"values": [{"t": 59000}]},
  "mark": {"type": "rule", "color": "#d62728", "strokeWidth": 3, "strokeDash": [3, 3.5]},
  "encoding": {"x": {"field": "t", "type": "quantitative", "title": "Date (MJD)", "scale": {"domain": [58580.6, 59481.7], "nice": false, "zero": false}}}
 },
 {
  "data": {"values": [{"t": 58986, "f": 5.35e-14, "s": "Neutrino"}]},
  "mark": {"type": "text", "align": "right", "baseline": "middle", "color": "#d62728", "fontSize": 28, "font": "Liberation Serif"},
  "encoding": {
   "x": {"field": "t", "type": "quantitative", "title": "Date (MJD)", "scale": {"domain": [58580.6, 59481.7], "nice": false, "zero": false}},
   "y": {"field": "f", "type": "quantitative", "scale": {"type": "log", "domain": [1.683e-14, 1.697e-12], "nice": false}, "axis": null},
   "text": {"field": "s"}
  }
 },
 {
  "data": {"values": [{"L": 1e43}]},
  "mark": {"type": "point", "opacity": 0},
  "encoding": {
   "y": {"field": "L", "type": "quantitative", "title": "ν Lᵥ (erg s⁻¹)", "scale": {"type": "log", "domain": [4.118e42, 4.153e44], "nice": false},
         "axis": {"orient": "right", "values": [5e42,6e42,7e42,8e42,9e42,1e43,2e43,3e43,4e43,5e43,6e43,7e43,8e43,9e43,1e44,2e44,3e44,4e44],
                  "labelExpr": "datum.value == 1e43 ? '10⁴³' : datum.value == 1e44 ? '10⁴⁴' : ''", "labelFontSize": 34,
                  "grid": false, "tickSize": 7, "labelPadding": 4, "titlePadding": 51, "titleAngle": 270,
                  "encode": {"ticks": {"update": {"x2": {"signal": "(datum.value == 1e43 || datum.value == 1e44) ? 7 : 3.5"}}}}}}
  }
 }
],
"resolve": {"scale": {"y": "independent"}, "axis": {"y": "independent"}}
}
